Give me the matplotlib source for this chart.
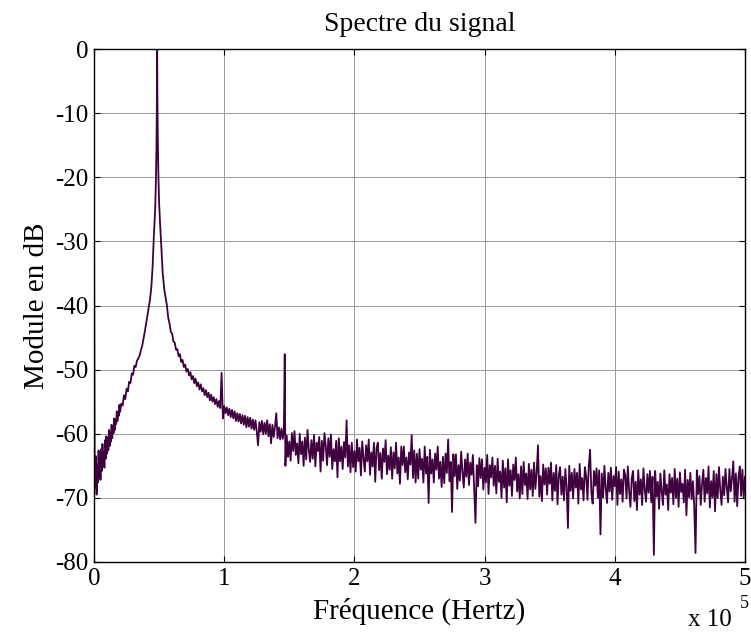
import numpy as np
import matplotlib
matplotlib.use('Agg')
import matplotlib.pyplot as plt
from matplotlib.ticker import FuncFormatter, MultipleLocator

plt.rcParams['font.family'] = ['Liberation Serif', 'DejaVu Serif']
plt.rcParams['axes.unicode_minus'] = False

# --- données (fréquences en kHz, module en dB) ---
f_dc = [0.0]
db_dc = [-23.0]

# flanc montant, pas de 0.5 kHz jusqu'à 20 kHz
f_rise_a = list(np.arange(0.5, 20.01, 0.5))
db_rise_a = [-66.0, -68.5, -63.5, -69.5, -64.8, -67.6, -62.6, -66.9, -63.9, -67.2,
             -62.4, -65.8, -61.6, -64.7, -62.9, -65.3, -61.0, -63.9, -60.4, -63.1,
             -60.7, -62.6, -59.4, -61.9, -59.8, -61.2, -58.6, -60.7, -58.9, -59.9,
             -57.6, -59.4, -57.8, -58.5, -56.5, -58.0, -56.6, -57.2, -55.5, -56.6]

# flanc montant, pas de 1 kHz de 21 à 44 kHz
f_rise_b = list(range(21, 45))
db_rise_b = [-55.3, -55.6, -54.0, -54.6, -53.0, -53.4, -51.9, -52.1, -50.6, -50.8,
             -49.4, -49.6, -48.6, -48.3, -47.8, -47.0, -46.3, -45.2, -44.1, -42.8,
             -41.6, -40.4, -39.1, -37.2]

# pic principal
f_peak = [45.0, 45.5, 46.0, 46.5, 47.0, 47.5, 48.0, 48.3, 48.5, 48.7, 49.0, 49.5,
          50.0, 50.7, 51.5, 52.0, 52.8, 53.5, 54.0, 55.0]
db_peak = [-34.0, -31.5, -29.0, -27.0, -25.0, -21.0, -15.0, -8.0, 0.0, -8.0, -14.0, -20.0,
           -24.0, -27.0, -30.0, -32.0, -35.0, -36.5, -37.5, -38.8]

# décroissance 56..145 kHz (pas de 1 kHz), puis raie à 146.5 kHz
f_decay = list(range(56, 146)) + [145.8, 146.5, 147.0]
db_decay = [-40.0, -41.9, -42.8, -44.1, -44.4, -45.6, -45.8, -46.9, -46.8, -47.9,
            -47.6, -48.8, -48.5, -49.6, -49.2, -50.3, -49.9, -50.9, -50.4, -51.5,
            -51.0, -52.1, -51.4, -52.6, -52.0, -53.1, -52.3, -53.4, -52.9, -54.0,
            -53.2, -54.3, -53.6, -54.8, -53.9, -55.0, -54.3, -55.4, -54.6, -55.8,
            -54.9, -56.0, -50.5, -57.6, -55.7, -56.8, -55.9, -57.1, -56.1, -57.4,
            -56.3, -57.6, -56.5, -58.0, -56.8, -58.1, -56.9, -58.4, -57.1, -58.6,
            -57.2, -59.0, -57.4, -58.9, -57.5, -59.2, -57.8, -59.4, -57.9, -59.6,
            -61.8, -58.2, -59.7, -58.0, -60.1, -58.3, -60.0, -57.9, -60.4, -58.5,
            -61.5, -58.6, -60.5, -58.9, -56.8, -60.7, -59.0, -60.9, -59.2, -60.8,
            -59.5, -47.6, -65.0]

# plancher de bruit 148..500 kHz, pas de 1 kHz
f_noise = list(range(148, 501))
db_noise = [-60.3, -63.6, -61.2, -64.2, -59.9, -62.7, -59.6, -63.3, -61.5, -64.6,
            -60.0, -63.2, -61.2, -65.0, -60.6, -64.0, -59.4, -62.5, -64.4, -61.0,
            -63.9, -60.2, -65.1, -61.4, -62.7, -60.5, -65.9, -61.1, -64.2, -59.9,
            -61.9, -64.9, -60.7, -63.6, -60.1, -65.5, -62.4, -64.3, -61.1, -66.8,
            -60.7, -64.3, -62.0, -65.5, -61.3, -63.7, -57.9, -65.1, -61.8, -66.0,
            -61.4, -65.2, -62.7, -65.9, -60.9, -64.3, -62.2, -66.5, -61.2, -63.8,
            -65.9, -61.8, -64.3, -60.9, -66.4, -62.9, -65.1, -61.4, -67.5, -62.2,
            -61.4, -65.7, -63.0, -67.0, -62.3, -64.4, -61.0, -66.3, -63.4, -65.6,
            -62.1, -67.0, -62.9, -65.4, -61.4, -66.2, -63.7, -67.8, -62.0, -64.9,
            -62.0, -66.0, -63.7, -67.1, -62.9, -64.8, -60.2, -66.9, -62.6, -67.6,
            -63.1, -67.0, -62.4, -65.6, -63.9, -67.6, -62.0, -66.2, -63.6, -70.8,
            -62.5, -66.2, -64.0, -67.6, -63.1, -65.6, -62.0, -67.0, -64.4, -68.3,
            -63.6, -67.7, -63.1, -66.1, -60.9, -67.4, -64.4, -72.2, -63.2, -66.6,
            -63.2, -68.6, -64.9, -67.3, -62.8, -65.9, -68.4, -64.0, -66.7, -63.1,
            -68.0, -64.5, -66.4, -63.3, -68.8, -73.9, -64.9, -68.2, -63.8, -66.9,
            -64.0, -68.7, -65.3, -67.6, -63.3, -69.4, -64.9, -66.8, -63.7, -68.1,
            -65.0, -69.3, -63.9, -67.5, -65.9, -70.0, -64.2, -68.4, -65.4, -70.7,
            -64.0, -68.1, -65.7, -69.7, -64.8, -67.2, -63.7, -69.0, -66.3, -70.1,
            -65.1, -69.4, -64.4, -68.0, -66.2, -70.2, -64.7, -68.7, -65.6, -69.7,
            -64.5, -68.6, -66.0, -61.8, -69.8, -66.6, -70.5, -64.8, -67.9, -65.4,
            -69.5, -65.3, -67.8, -64.5, -70.4, -66.1, -68.9, -64.9, -71.0, -66.4,
            -65.2, -69.5, -66.7, -70.4, -65.5, -68.2, -74.7, -65.0, -68.9, -66.1,
            -70.1, -65.5, -68.4, -66.1, -70.9, -64.7, -68.7, -66.9, -70.4, -65.2,
            -66.6, -70.3, -65.1, -62.5, -69.2, -70.9, -65.8, -68.1, -65.4, -70.0,
            -65.7, -75.7, -66.2, -69.9, -65.0, -68.5, -70.8, -66.1, -69.0, -65.3,
            -70.3, -66.6, -68.2, -65.2, -71.1, -65.9, -69.4, -67.1, -70.6, -65.6,
            -66.4, -70.1, -65.1, -68.9, -71.4, -67.0, -65.8, -70.5, -67.5, -71.9,
            -65.7, -69.5, -67.1, -71.1, -65.4, -68.7, -70.6, -66.3, -69.2, -65.8,
            -70.7, -66.7, -78.9, -65.8, -69.8, -67.5, -71.7, -66.2, -69.0, -71.1,
            -65.7, -69.5, -67.9, -71.9, -66.3, -69.2, -66.9, -71.0, -65.5, -70.0,
            -67.0, -71.4, -66.0, -69.1, -67.8, -70.7, -65.6, -72.7, -67.2, -69.9,
            -66.1, -70.2, -67.4, -71.3, -78.6, -65.7, -69.4, -66.6, -71.1, -67.8,
            -65.6, -70.6, -66.9, -69.3, -65.1, -71.5, -67.4, -69.9, -65.8, -72.1,
            -66.3, -70.0, -65.2, -68.8, -71.1, -66.7, -69.6, -65.5, -68.3, -70.7,
            -65.5, -69.0, -67.0, -64.3, -70.6, -66.2, -71.3, -66.8, -65.1, -69.7,
            -65.6, -70.0, -66.7]

freq = np.concatenate([f_dc, f_rise_a, f_rise_b, f_peak, f_decay, f_noise]) * 1e3
module = np.concatenate([db_dc, db_rise_a, db_rise_b, db_peak, db_decay, db_noise])

fig = plt.figure(figsize=(7.51, 6.32), dpi=100)
ax = fig.add_axes([94 / 751, 70 / 632, 651 / 751, 513 / 632])
ax.plot(freq, module, color='#400040', linewidth=1.3)

ax.set_xlim(0, 5e5)
ax.set_ylim(-80, 0)
ax.xaxis.set_major_locator(MultipleLocator(1e5))
ax.yaxis.set_major_locator(MultipleLocator(10))
ax.xaxis.set_major_formatter(FuncFormatter(lambda v, p: f'{v / 1e5:g}'))
ax.grid(True, color='0.6', linewidth=0.7, linestyle='-')
ax.tick_params(direction='in', length=4, width=0.8, labelsize=18,
               top=True, right=True, pad=4)
for s in ax.spines.values():
    s.set_linewidth(1.0)

ax.set_title('Spectre du signal', fontsize=20, pad=13)
ax.set_xlabel('Fréquence (Hertz)', fontsize=21, labelpad=6)
ax.set_ylabel('Module en dB', fontsize=21, labelpad=4)
fig.text(688 / 751, 6 / 632, 'x 10', fontsize=18, ha='left', va='baseline')
fig.text(740 / 751, 24 / 632, '5', fontsize=13, ha='left', va='baseline')

fig.savefig('out.png', dpi=100)
